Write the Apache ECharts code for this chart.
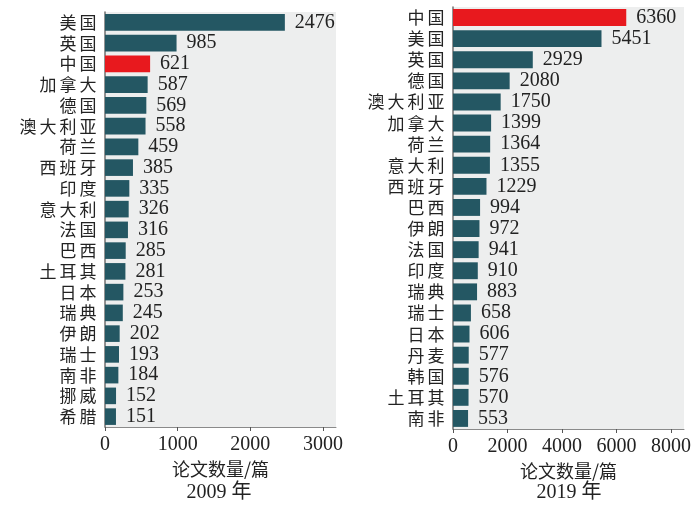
<!DOCTYPE html>
<html>
<head>
<meta charset="utf-8">
<script src="https://cdn.jsdelivr.net/npm/echarts@6/dist/echarts.min.js"></script>
<style>html,body{margin:0;padding:0;background:#fff}#c{width:700px;height:510px}</style>
</head>
<body>
<div id="c"></div>
<script>
var cats2009 = ['美国','英国','中国','加拿大','德国','澳大利亚','荷兰','西班牙','印度','意大利','法国','巴西','土耳其','日本','瑞典','伊朗','瑞士','南非','挪威','希腊'];
var vals2009 = [2476,985,621,587,569,558,459,385,335,326,316,285,281,253,245,202,193,184,152,151];
var cats2019 = ['中国','美国','英国','德国','澳大利亚','加拿大','荷兰','意大利','西班牙','巴西','伊朗','法国','印度','瑞典','瑞士','日本','丹麦','韩国','土耳其','南非'];
var vals2019 = [6360,5451,2929,2080,1750,1399,1364,1355,1229,994,972,941,910,883,658,606,577,576,570,553];
var ticks2009 = [0,1000,2000,3000];
var ticks2019 = [0,2000,4000,6000,8000];
var axisName = '论文数量/篇';
var year2009 = '2009 年';
var year2019 = '2019 年';

var TEAL = '#245763', RED = '#E8191E', BG = '#EDEEEE';
var SERIF = '"Liberation Serif", "Noto Sans CJK SC", serif';
var CJK = '"Noto Sans CJK SC", sans-serif';

function barData(cats, vals) {
  return vals.map(function (v, i) {
    return { value: v, itemStyle: { color: cats[i] === '中国' ? RED : TEAL } };
  });
}
function xAxisCfg(gi, max, ticks) {
  return {
    type: 'value', gridIndex: gi, min: 0, max: max,
    name: axisName, nameLocation: 'middle', nameGap: 33,
    nameTextStyle: { fontFamily: CJK, fontSize: 18, color: '#222' },
    axisLine: { show: true, lineStyle: { color: '#8a8a8a', width: 1 } },
    axisTick: { show: true, length: 4, lineStyle: { color: '#555' }, customValues: ticks },
    axisLabel: { fontFamily: SERIF, fontSize: 20, color: '#222', margin: 8, customValues: ticks,
      formatter: function (v) { return String(v); } },
    splitLine: { show: false }
  };
}
function yAxisCfg(gi, cats) {
  return {
    type: 'category', gridIndex: gi, data: cats, inverse: true,
    axisLine: { show: true, lineStyle: { color: '#6f6f6f', width: 1.5 } },
    axisTick: { show: false },
    axisLabel: {
      fontFamily: CJK, fontSize: 17, color: '#222', margin: 7, interval: 0,
      formatter: function (s) {
        return s.split('').map(function (ch) { return '{c|' + ch + '}'; }).join('');
      },
      rich: { c: { fontFamily: CJK, fontSize: 17, color: '#222', width: 20, align: 'center' } }
    }
  };
}
function seriesCfg(gi, cats, vals) {
  return {
    type: 'bar', xAxisIndex: gi, yAxisIndex: gi,
    data: barData(cats, vals), barCategoryGap: '20%',
    label: { show: true, position: 'right', distance: 10, fontFamily: SERIF, fontSize: 20, color: '#222' },
    animation: false
  };
}

var chart = echarts.init(document.getElementById('c'), null, { renderer: 'canvas' });
chart.setOption({
  backgroundColor: '#fff',
  animation: false,
  grid: [
    { left: 105, top: 12, width: 231, height: 415, show: true, backgroundColor: BG, borderWidth: 0 },
    { left: 453, top: 7, width: 231, height: 422, show: true, backgroundColor: BG, borderWidth: 0 }
  ],
  xAxis: [xAxisCfg(0, 3180, ticks2009), xAxisCfg(1, 8480, ticks2019)],
  yAxis: [yAxisCfg(0, cats2009), yAxisCfg(1, cats2019)],
  series: [seriesCfg(0, cats2009, vals2009), seriesCfg(1, cats2019, vals2019)],
  graphic: [
    { type: 'text', x: 219, y: 493, style: { text: year2009, fontFamily: SERIF, fontSize: 20, fill: '#222', align: 'center', verticalAlign: 'middle' } },
    { type: 'text', x: 569, y: 493, style: { text: year2019, fontFamily: SERIF, fontSize: 20, fill: '#222', align: 'center', verticalAlign: 'middle' } }
  ]
});
</script>
</body>
</html>
